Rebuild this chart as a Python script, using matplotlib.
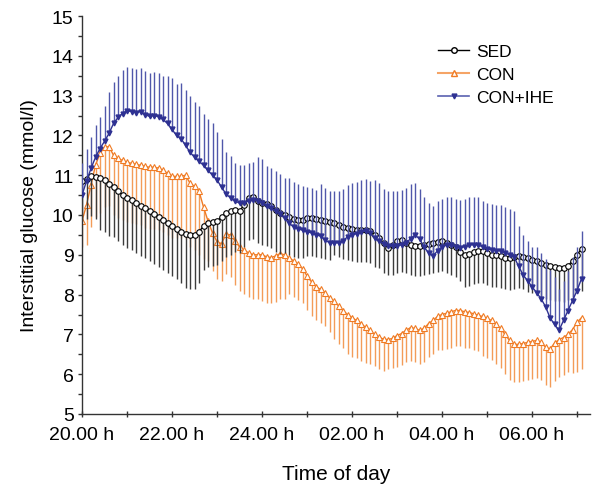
import numpy as np
import matplotlib.pyplot as plt
from matplotlib.lines import Line2D
from matplotlib.ticker import MultipleLocator

plt.rcParams['font.family'] = ['Liberation Sans', 'DejaVu Sans']

# hours after 20.00 h, one reading every 6 min
hours = np.arange(112) * 0.1

sed_mean = [10.85, 10.9, 10.97, 10.95, 10.92, 10.88, 10.78, 10.7, 10.6, 10.5,
            10.43, 10.37, 10.3, 10.22, 10.17, 10.1, 10.03, 9.95, 9.88, 9.8,
            9.72, 9.65, 9.58, 9.52, 9.5, 9.5, 9.58, 9.72, 9.8, 9.82,
            9.85, 9.95, 10.05, 10.1, 10.12, 10.1, 10.25, 10.42, 10.45, 10.35,
            10.3, 10.27, 10.22, 10.13, 10.06, 10.0, 9.95, 9.9, 9.88, 9.88,
            9.92, 9.93, 9.9, 9.88, 9.85, 9.83, 9.8, 9.75, 9.7, 9.68,
            9.65, 9.63, 9.62, 9.62, 9.6, 9.5, 9.42, 9.3, 9.18, 9.25,
            9.35, 9.38, 9.3, 9.25, 9.22, 9.22, 9.25, 9.28, 9.3, 9.33,
            9.35, 9.3, 9.25, 9.2, 9.08, 9.0, 9.02, 9.07, 9.1, 9.1,
            9.05, 9.0, 9.0, 8.97, 8.93, 8.92, 8.94, 8.97, 8.95, 8.92,
            8.88, 8.85, 8.8, 8.75, 8.72, 8.7, 8.68, 8.67, 8.72, 8.85,
            9.0, 9.15]
sed_sd = [1.0, 1.0, 1.0, 1.05, 1.3, 1.3, 1.3, 1.25, 1.25, 1.25,
          1.25, 1.25, 1.25, 1.25, 1.25, 1.25, 1.25, 1.25, 1.25, 1.25,
          1.25, 1.25, 1.3, 1.35, 1.35, 1.35, 1.3, 1.1, 1.1, 1.1,
          1.1, 1.1, 1.1, 1.1, 1.05, 1.05, 1.05, 1.05, 1.05, 1.05,
          1.05, 1.05, 1.05, 1.05, 1.05, 0.95, 0.95, 0.95, 0.95, 0.95,
          0.95, 0.95, 0.95, 0.95, 0.95, 0.95, 0.8, 0.8, 0.8, 0.8,
          0.8, 0.8, 0.8, 0.8, 0.8, 0.8, 0.75, 0.75, 0.7, 0.75,
          0.8, 0.8, 0.75, 0.75, 0.75, 0.75, 0.75, 0.75, 0.75, 0.75,
          0.75, 0.75, 0.75, 0.75, 0.75, 0.8, 0.8, 0.8, 0.8, 0.8,
          0.8, 0.8, 0.8, 0.8, 0.8, 0.8, 0.8, 0.8, 0.8, 0.85,
          0.85, 0.85, 0.85, 0.85, 0.85, 0.85, 0.85, 0.85, 0.85, 0.9,
          0.95, 1.05]

con_mean = [9.85, 10.25, 10.75, 11.25, 11.55, 11.7, 11.72, 11.5, 11.42, 11.37,
            11.32, 11.3, 11.27, 11.25, 11.22, 11.2, 11.2, 11.18, 11.12, 11.05,
            10.97, 10.97, 10.97, 11.0, 10.8, 10.72, 10.6, 10.2, 9.85, 9.55,
            9.33, 9.28, 9.52, 9.5, 9.35, 9.2, 9.12, 9.05, 9.0, 9.0,
            9.0, 8.95, 8.93, 8.97, 9.03, 9.0, 8.92, 8.85, 8.77, 8.65,
            8.47, 8.32, 8.2, 8.13, 8.05, 7.92, 7.83, 7.72, 7.6, 7.5,
            7.42, 7.35, 7.27, 7.18, 7.1, 7.0, 6.93, 6.88, 6.87, 6.9,
            6.97, 7.02, 7.1, 7.17, 7.15, 7.1, 7.15, 7.27, 7.35, 7.45,
            7.5, 7.53, 7.57, 7.6, 7.6, 7.57, 7.55, 7.52, 7.48, 7.45,
            7.4, 7.35, 7.25, 7.15, 7.0, 6.85, 6.75, 6.75, 6.77, 6.8,
            6.82, 6.85, 6.8, 6.68, 6.63, 6.78, 6.87, 6.92, 7.0, 7.12,
            7.3, 7.42]
con_sd = [0.65, 1.0, 1.05, 1.3, 1.5, 1.5, 1.5, 1.5, 1.5, 1.5,
          1.5, 1.5, 1.5, 1.5, 1.55, 1.55, 1.55, 1.55, 1.55, 1.55,
          1.55, 1.55, 1.55, 1.6, 1.6, 1.6, 1.6, 1.3, 1.0, 0.95,
          0.95, 0.95, 1.0, 1.05, 1.1, 1.1, 1.1, 1.1, 1.1, 1.1,
          1.15, 1.15, 1.15, 1.15, 1.15, 1.1, 0.9, 0.9, 0.9, 0.85,
          0.85, 0.85, 0.85, 0.85, 0.85, 0.85, 0.95, 0.95, 0.95, 1.0,
          1.0, 0.95, 0.95, 0.9, 0.85, 0.8, 0.8, 0.8, 0.75, 0.75,
          0.8, 0.8, 0.8, 0.85, 0.85, 0.85, 0.85, 0.85, 0.85, 0.85,
          0.9, 0.9, 0.9, 0.9, 0.9, 0.9, 0.9, 0.9, 0.9, 1.0,
          1.0, 1.0, 1.0, 1.0, 1.0, 1.0, 0.95, 0.95, 0.95, 0.95,
          0.95, 0.95, 0.95, 0.95, 0.95, 0.95, 0.95, 0.95, 0.95, 1.1,
          1.25, 1.3]

ihe_mean = [10.5, 10.85, 11.17, 11.45, 11.67, 11.85, 12.05, 12.3, 12.45, 12.55,
            12.62, 12.6, 12.57, 12.6, 12.52, 12.48, 12.5, 12.47, 12.4, 12.3,
            12.15, 12.0, 11.92, 11.75, 11.58, 11.45, 11.35, 11.25, 11.12, 11.0,
            10.88, 10.7, 10.53, 10.43, 10.35, 10.3, 10.3, 10.35, 10.38, 10.35,
            10.3, 10.22, 10.17, 10.1, 10.02, 9.93, 9.8, 9.7, 9.65, 9.62,
            9.58, 9.55, 9.5, 9.47, 9.38, 9.3, 9.3, 9.3, 9.35, 9.45,
            9.5, 9.53, 9.57, 9.6, 9.55, 9.42, 9.35, 9.27, 9.22, 9.22,
            9.22, 9.25, 9.3, 9.4, 9.5, 9.4, 9.2, 9.05, 8.97, 9.1,
            9.2, 9.25, 9.25, 9.2, 9.18, 9.2, 9.25, 9.25, 9.25, 9.2,
            9.15, 9.12, 9.1, 9.1, 9.05, 9.0, 8.95, 8.72, 8.5, 8.35,
            8.2, 8.05, 7.9, 7.7, 7.42, 7.25, 7.1, 7.35, 7.6, 7.85,
            8.1, 8.4]
ihe_sd = [0.8, 0.8, 0.8, 0.8, 0.8, 0.9, 1.05, 1.05, 1.05, 1.1,
          1.1, 1.1, 1.1, 1.1, 1.1, 1.1, 1.1, 1.1, 1.1, 1.2,
          1.3, 1.3, 1.4, 1.4, 1.4, 1.4, 1.4, 1.3, 1.3, 1.3,
          1.2, 1.2, 1.05, 1.05, 0.95, 0.95, 0.95, 0.95, 0.95, 1.1,
          1.1, 1.0, 1.0, 1.0, 1.0, 1.0, 1.12, 1.12, 1.12, 1.12,
          1.12, 1.12, 1.12, 1.3, 1.3, 1.3, 1.3, 1.3, 1.3, 1.3,
          1.3, 1.3, 1.3, 1.3, 1.3, 1.45, 1.45, 1.38, 1.38, 1.38,
          1.38, 1.38, 1.38, 1.38, 1.3, 1.25, 1.25, 1.25, 1.25, 1.25,
          1.2, 1.2, 1.2, 1.2, 1.2, 1.2, 1.2, 1.2, 1.2, 1.15,
          1.15, 1.15, 1.15, 1.15, 1.15, 1.15, 1.15, 1.0, 1.0, 1.0,
          1.0, 1.15, 1.15, 1.2, 1.2, 1.2, 1.05, 1.0, 1.0, 1.1,
          1.1, 1.2]

tick_labels = ['20.00 h', '22.00 h', '24.00 h', '02.00 h', '04.00 h', '06.00 h']

zeros = np.zeros(len(hours))

sed_col, con_col, ihe_col = 'black', '#F07B24', '#2E3192'

fig = plt.figure(figsize=(5.96, 4.85), dpi=100)
ax = fig.add_axes([82 / 596, 70 / 485, 508 / 596, 398 / 485])

# CON: error bars downward
ax.errorbar(hours, con_mean, yerr=[con_sd, zeros], color=con_col, ecolor='#F39C58',
            elinewidth=1.0, capsize=0, lw=1.0, marker='^', ms=4, mfc='white',
            mec=con_col, mew=0.8, zorder=2)
# SED: error bars downward
ax.errorbar(hours, sed_mean, yerr=[sed_sd, zeros], color=sed_col, ecolor='#3c3c3c',
            elinewidth=1.0, capsize=0, lw=1.0, marker='o', ms=4, mfc='white',
            mec=sed_col, mew=0.8, zorder=3)
# CON+IHE: error bars upward
ax.errorbar(hours, ihe_mean, yerr=[zeros, ihe_sd], color=ihe_col, ecolor='#5057AA',
            elinewidth=1.0, capsize=0, lw=1.0, marker='v', ms=3.5, mfc=ihe_col,
            mec=ihe_col, zorder=4)

ax.set_xlim(0, 508 / 45)
ax.set_ylim(5, 15)
ax.set_xticks(np.arange(0, 11, 2))
ax.set_xticklabels(tick_labels)
ax.xaxis.set_minor_locator(MultipleLocator(1))
ax.yaxis.set_major_locator(MultipleLocator(1))
ax.yaxis.set_minor_locator(MultipleLocator(0.5))

for s in ['top', 'right']:
    ax.spines[s].set_visible(False)
for s in ['left', 'bottom']:
    ax.spines[s].set_color('#333333')
    ax.spines[s].set_linewidth(1.0)

ax.tick_params(axis='y', which='both', direction='out', length=3, width=1,
               color='#333333', labelsize=14, pad=3)
ax.tick_params(axis='x', which='both', direction='inout', length=5, width=1,
               color='#333333', labelsize=14, pad=6)

ax.set_xlabel('Time of day', fontsize=15, labelpad=15)
ax.set_ylabel('Interstitial glucose (mmol/l)', fontsize=14, labelpad=10)

legend_handles = [
    Line2D([], [], color=sed_col, lw=1, marker='o', ms=4, mfc='white', mec=sed_col),
    Line2D([], [], color='#F5A466', lw=1.5, marker='^', ms=4, mfc='white', mec=con_col),
    Line2D([], [], color='#5A61B0', lw=1.2, marker='v', ms=3.5, mfc=ihe_col, mec=ihe_col),
]
ax.legend(legend_handles, ['SED', 'CON', 'CON+IHE'],
          loc='upper left', bbox_to_anchor=(0.67, 0.97), frameon=False,
          fontsize=12.5, handlelength=1.8, handletextpad=0.4, labelspacing=0.45)

fig.savefig('out.png', dpi=100)
